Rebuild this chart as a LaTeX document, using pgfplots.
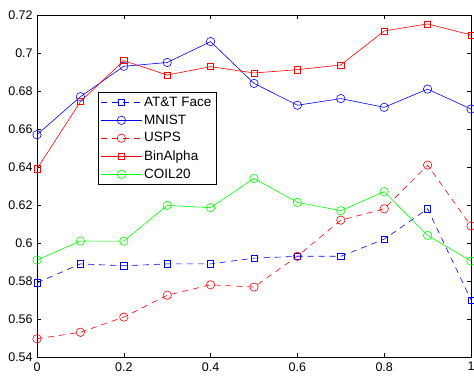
\documentclass[border=0pt]{standalone}
\usepackage{pgfplots}
\pgfplotsset{compat=1.18}
\usepackage{fontspec}
\setmainfont{Liberation Sans}
\definecolor{mblue}{rgb}{0,0,1}
\definecolor{mred}{rgb}{1,0,0}
\definecolor{mgreen}{rgb}{0,1,0}
\begin{document}
\fontsize{12.5pt}{15pt}\selectfont
\begin{tikzpicture}
\begin{axis}[
  scale only axis,
  width=434pt, height=342pt,
  xmin=0, xmax=1, ymin=0.54, ymax=0.72,
  xtick={0,0.2,0.4,0.6,0.8,1},
  ytick={0.54,0.56,0.58,0.6,0.62,0.64,0.66,0.68,0.7,0.72},
  xticklabels={0,0.2,0.4,0.6,0.8,1},
  yticklabels={0.54,0.56,0.58,0.6,0.62,0.64,0.66,0.68,0.7,0.72},
  tick align=inside,
  major tick length=4pt,
  tick style={black, line width=0.6pt},
  axis line style={black, line width=0.9pt},
  ticklabel style={font=\fontsize{12.5pt}{15pt}\selectfont},
  xticklabel style={yshift=-1pt},
  legend style={at={(rel axis cs:0.14,0.775)}, anchor=north west,
    draw=black, line width=0.8pt, font=\fontsize{13.5pt}{16pt}\selectfont,
    row sep=2.6pt, inner sep=2.5pt, cells={anchor=west}},
  legend image post style={line width=0.6pt},
  legend image code/.code={
    \draw[mark repeat=2,mark phase=2]
      plot coordinates {(0cm,0cm) (0.72cm,0cm) (1.44cm,0cm)};
  },
]
\addplot[mblue, line width=0.6pt, dash pattern=on 6pt off 5pt, mark=square, mark size=3.1pt, mark options={solid}]
coordinates {(0,0.579) (0.1,0.589) (0.2,0.588) (0.3,0.589) (0.4,0.589) (0.5,0.592) (0.6,0.593) (0.7,0.593) (0.8,0.602) (0.9,0.618) (1,0.570)};
\addlegendentry{AT\&T Face}
\addplot[mblue, line width=0.6pt, mark=o, mark size=4.2pt]
coordinates {(0,0.657) (0.1,0.677) (0.2,0.693) (0.3,0.695) (0.4,0.706) (0.5,0.684) (0.6,0.6725) (0.7,0.676) (0.8,0.6714) (0.9,0.681) (1,0.6705)};
\addlegendentry{MNIST}
\addplot[mred, line width=0.6pt, dash pattern=on 6pt off 5pt, mark=o, mark size=4.2pt, mark options={solid}]
coordinates {(0,0.5496) (0.1,0.553) (0.2,0.561) (0.3,0.5725) (0.4,0.578) (0.5,0.5768) (0.6,0.593) (0.7,0.612) (0.8,0.618) (0.9,0.641) (1,0.609)};
\addlegendentry{USPS}
\addplot[mred, line width=0.6pt, mark=square, mark size=3.1pt]
coordinates {(0,0.639) (0.1,0.6744) (0.2,0.696) (0.3,0.6884) (0.4,0.6928) (0.5,0.6895) (0.6,0.6912) (0.7,0.6937) (0.8,0.7116) (0.9,0.7153) (1,0.7095)};
\addlegendentry{BinAlpha}
\addplot[mgreen, line width=0.6pt, mark=o, mark size=4.2pt]
coordinates {(0,0.591) (0.1,0.601) (0.2,0.601) (0.3,0.6198) (0.4,0.6186) (0.5,0.634) (0.6,0.6214) (0.7,0.617) (0.8,0.627) (0.9,0.604) (1,0.5905)};
\addlegendentry{COIL20}
\end{axis}
\pgfresetboundingbox
\useasboundingbox ([shift={(-37pt,-19pt)}]current axis.south west) rectangle ([shift={(3pt,15pt)}]current axis.north east);
\end{tikzpicture}
\end{document}
